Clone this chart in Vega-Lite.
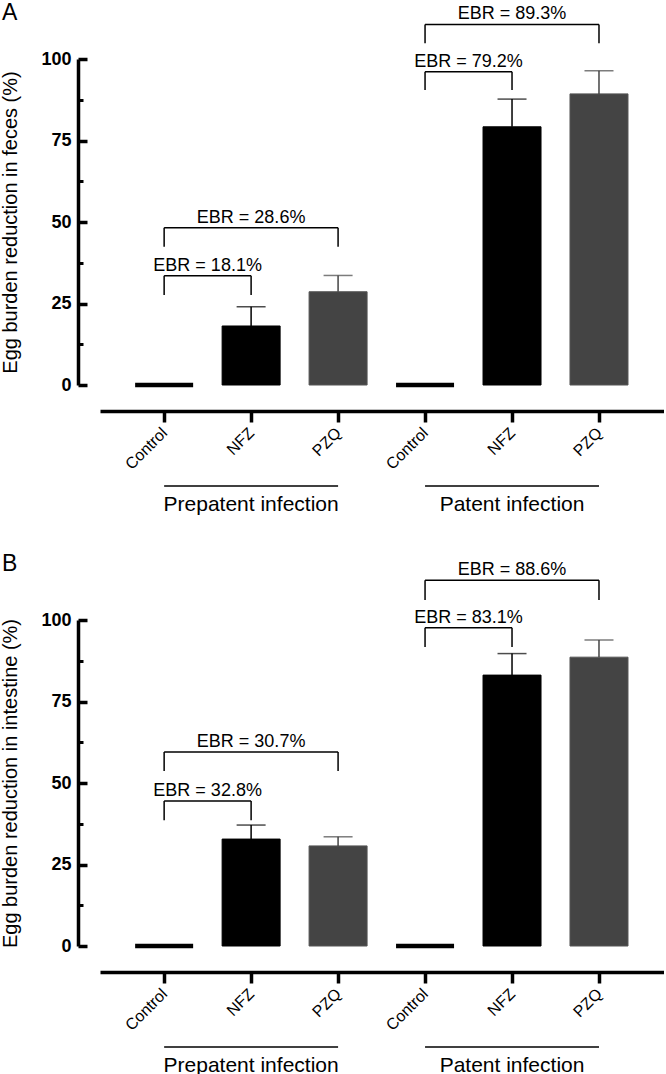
{
  "$schema": "https://vega.github.io/schema/vega-lite/v6.json",
  "padding": {"left": 0, "top": 2, "right": 0, "bottom": 0},
  "background": "white",
  "config": {
    "font": "Liberation Sans",
    "view": {"stroke": null},
    "axis": {"labelFont": "Liberation Sans", "titleFont": "Liberation Sans", "grid": false},
    "title": {"font": "Liberation Sans"}
  },
  "spacing": 37,
  "datasets": {
    "bars": [
      {"panel": "A", "pos": 1, "infection": "Prepatent", "treatment": "Control", "value": 0, "upper": 0},
      {"panel": "A", "pos": 2, "infection": "Prepatent", "treatment": "NFZ", "value": 18.1, "upper": 24.0},
      {"panel": "A", "pos": 3, "infection": "Prepatent", "treatment": "PZQ", "value": 28.6, "upper": 33.6},
      {"panel": "A", "pos": 4, "infection": "Patent", "treatment": "Control", "value": 0, "upper": 0},
      {"panel": "A", "pos": 5, "infection": "Patent", "treatment": "NFZ", "value": 79.2, "upper": 87.7},
      {"panel": "A", "pos": 6, "infection": "Patent", "treatment": "PZQ", "value": 89.3, "upper": 96.4},
      {"panel": "B", "pos": 1, "infection": "Prepatent", "treatment": "Control", "value": 0, "upper": 0},
      {"panel": "B", "pos": 2, "infection": "Prepatent", "treatment": "NFZ", "value": 32.8, "upper": 37.1},
      {"panel": "B", "pos": 3, "infection": "Prepatent", "treatment": "PZQ", "value": 30.7, "upper": 33.5},
      {"panel": "B", "pos": 4, "infection": "Patent", "treatment": "Control", "value": 0, "upper": 0},
      {"panel": "B", "pos": 5, "infection": "Patent", "treatment": "NFZ", "value": 83.1, "upper": 89.7},
      {"panel": "B", "pos": 6, "infection": "Patent", "treatment": "PZQ", "value": 88.6, "upper": 93.9}
    ],
    "brackets": [
      {"panel": "A", "from": 1, "to": 2, "mid": 1.5, "top": 33.5, "bottom": 27.6, "label": "EBR = 18.1%"},
      {"panel": "A", "from": 1, "to": 3, "mid": 2, "top": 48.2, "bottom": 42.4, "label": "EBR = 28.6%"},
      {"panel": "A", "from": 4, "to": 5, "mid": 4.5, "top": 96.1, "bottom": 90.5, "label": "EBR = 79.2%"},
      {"panel": "A", "from": 4, "to": 6, "mid": 5, "top": 110.6, "bottom": 104.8, "label": "EBR = 89.3%"},
      {"panel": "B", "from": 1, "to": 2, "mid": 1.5, "top": 44.5, "bottom": 38.6, "label": "EBR = 32.8%"},
      {"panel": "B", "from": 1, "to": 3, "mid": 2, "top": 59.5, "bottom": 53.7, "label": "EBR = 30.7%"},
      {"panel": "B", "from": 4, "to": 5, "mid": 4.5, "top": 97.6, "bottom": 91.7, "label": "EBR = 83.1%"},
      {"panel": "B", "from": 4, "to": 6, "mid": 5, "top": 112.2, "bottom": 106.1, "label": "EBR = 88.6%"}
    ],
    "groups": [
      {"from": 1, "to": 3, "mid": 2, "level": -31, "label": "Prepatent infection"},
      {"from": 4, "to": 6, "mid": 5, "level": -31, "label": "Patent infection"}
    ]
  },
  "vconcat": [
    {
      "title": {"text": "A", "anchor": "start", "frame": "group", "fontSize": 23, "fontWeight": "normal", "dx": -98, "offset": -20},
      "width": 564,
      "height": 326,
      "resolve": {"axis": {"y": "independent"}},
      "layer": [
        {
          "data": {"name": "bars"},
          "transform": [{"filter": "datum.panel === 'A'"}],
          "mark": {"type": "bar", "width": 58},
          "encoding": {
            "x": {"field": "pos", "type": "quantitative",
              "scale": {"domain": [0.32, 6.69], "nice": false, "zero": false},
              "axis": {"values": [1, 2, 3, 4, 5, 6], "labelExpr": "['Control','NFZ','PZQ','Control','NFZ','PZQ'][datum.value - 1]",
                "title": null, "offset": 26, "domainColor": "black", "domainWidth": 3.5, "tickColor": "black", "tickWidth": 3.5, "tickSize": 11,
                "labelAngle": -45, "labelAlign": "right", "labelBaseline": "middle", "labelFontSize": 16, "labelColor": "black", "labelPadding": 8}},
            "y": {"field": "value", "type": "quantitative",
              "scale": {"domain": [0, 100], "nice": false},
              "axis": {"orient": "left", "values": [0, 25, 50, 75, 100],
                "title": "Egg burden reduction in feces (%)", "titleFontSize": 20, "titleFontWeight": "normal", "titleColor": "black",
                "labelFontSize": 18, "labelFontWeight": "bold", "labelColor": "black",
                "domainColor": "black", "domainWidth": 3.5, "tickColor": "black", "tickWidth": 3.5, "tickSize": -9,
                "offset": 22, "labelPadding": 16, "titlePadding": 20}},
            "color": {"field": "treatment", "type": "nominal", "scale": {"domain": ["Control", "NFZ", "PZQ"], "range": ["#000000", "#000000", "#444444"]}, "legend": null},
            "stroke": {"field": "treatment", "type": "nominal", "scale": {"domain": ["Control", "NFZ", "PZQ"], "range": ["#000000", "#000000", "#555555"]}, "legend": null},
            "strokeWidth": {"condition": {"test": "datum.value === 0", "value": 4.5}, "value": 1}
          }
        },
        {
          "data": {"name": "bars"},
          "transform": [{"filter": "datum.panel === 'A' && datum.upper > 0"}],
          "mark": {"type": "rule", "strokeWidth": 1.5},
          "encoding": {
            "x": {"field": "pos", "type": "quantitative"},
            "y": {"field": "value", "type": "quantitative",
              "axis": {"orient": "left", "values": [12.5, 37.5, 62.5, 87.5], "labels": false, "domain": false, "title": null,
                "tickColor": "black", "tickWidth": 3, "tickSize": -5, "offset": 22}},
            "y2": {"field": "upper"},
            "color": {"field": "treatment", "type": "nominal", "scale": {"domain": ["Control", "NFZ", "PZQ"], "range": ["#000000", "#000000", "#555555"]}, "legend": null}
          }
        },
        {
          "data": {"name": "bars"},
          "transform": [{"filter": "datum.panel === 'A' && datum.upper > 0"}],
          "mark": {"type": "tick", "orient": "horizontal", "size": 29, "thickness": 1.5},
          "encoding": {
            "x": {"field": "pos", "type": "quantitative"},
            "y": {"field": "upper", "type": "quantitative", "axis": null},
            "color": {"field": "treatment", "type": "nominal", "scale": {"domain": ["Control", "NFZ", "PZQ"], "range": ["#000000", "#000000", "#555555"]}, "legend": null}
          }
        },
        {
          "data": {"name": "brackets"},
          "transform": [{"filter": "datum.panel === 'A'"}],
          "mark": {"type": "rule", "color": "black", "strokeWidth": 1.5},
          "encoding": {"x": {"field": "from", "type": "quantitative"}, "x2": {"field": "to"}, "y": {"field": "top", "type": "quantitative", "axis": null}}
        },
        {
          "data": {"name": "brackets"},
          "transform": [{"filter": "datum.panel === 'A'"}],
          "mark": {"type": "rule", "color": "black", "strokeWidth": 1.5},
          "encoding": {"x": {"field": "from", "type": "quantitative"}, "y": {"field": "top", "type": "quantitative", "axis": null}, "y2": {"field": "bottom"}}
        },
        {
          "data": {"name": "brackets"},
          "transform": [{"filter": "datum.panel === 'A'"}],
          "mark": {"type": "rule", "color": "black", "strokeWidth": 1.5},
          "encoding": {"x": {"field": "to", "type": "quantitative"}, "y": {"field": "top", "type": "quantitative", "axis": null}, "y2": {"field": "bottom"}}
        },
        {
          "data": {"name": "brackets"},
          "transform": [{"filter": "datum.panel === 'A'"}],
          "mark": {"type": "text", "fontSize": 18, "color": "black", "baseline": "alphabetic", "dy": -5},
          "encoding": {"x": {"field": "mid", "type": "quantitative"}, "y": {"field": "top", "type": "quantitative", "axis": null}, "text": {"field": "label"}}
        },
        {
          "data": {"name": "groups"},
          "mark": {"type": "rule", "color": "black", "strokeWidth": 1.5},
          "encoding": {"x": {"field": "from", "type": "quantitative"}, "x2": {"field": "to"}, "y": {"field": "level", "type": "quantitative", "axis": null}}
        },
        {
          "data": {"name": "groups"},
          "mark": {"type": "text", "fontSize": 21, "color": "black", "baseline": "alphabetic", "dy": 25},
          "encoding": {"x": {"field": "mid", "type": "quantitative"}, "y": {"field": "level", "type": "quantitative", "axis": null}, "text": {"field": "label"}}
        }
      ]
    },
    {
      "title": {"text": "B", "anchor": "start", "frame": "group", "fontSize": 23, "fontWeight": "normal", "dx": -98, "offset": -15},
      "width": 564,
      "height": 326,
      "resolve": {"axis": {"y": "independent"}},
      "layer": [
        {
          "data": {"name": "bars"},
          "transform": [{"filter": "datum.panel === 'B'"}],
          "mark": {"type": "bar", "width": 58},
          "encoding": {
            "x": {"field": "pos", "type": "quantitative",
              "scale": {"domain": [0.32, 6.69], "nice": false, "zero": false},
              "axis": {"values": [1, 2, 3, 4, 5, 6], "labelExpr": "['Control','NFZ','PZQ','Control','NFZ','PZQ'][datum.value - 1]",
                "title": null, "offset": 26, "domainColor": "black", "domainWidth": 3.5, "tickColor": "black", "tickWidth": 3.5, "tickSize": 11,
                "labelAngle": -45, "labelAlign": "right", "labelBaseline": "middle", "labelFontSize": 16, "labelColor": "black", "labelPadding": 8}},
            "y": {"field": "value", "type": "quantitative",
              "scale": {"domain": [0, 100], "nice": false},
              "axis": {"orient": "left", "values": [0, 25, 50, 75, 100],
                "title": "Egg burden reduction in intestine (%)", "titleFontSize": 20, "titleFontWeight": "normal", "titleColor": "black",
                "labelFontSize": 18, "labelFontWeight": "bold", "labelColor": "black",
                "domainColor": "black", "domainWidth": 3.5, "tickColor": "black", "tickWidth": 3.5, "tickSize": -9,
                "offset": 22, "labelPadding": 16, "titlePadding": 20}},
            "color": {"field": "treatment", "type": "nominal", "scale": {"domain": ["Control", "NFZ", "PZQ"], "range": ["#000000", "#000000", "#444444"]}, "legend": null},
            "stroke": {"field": "treatment", "type": "nominal", "scale": {"domain": ["Control", "NFZ", "PZQ"], "range": ["#000000", "#000000", "#555555"]}, "legend": null},
            "strokeWidth": {"condition": {"test": "datum.value === 0", "value": 4.5}, "value": 1}
          }
        },
        {
          "data": {"name": "bars"},
          "transform": [{"filter": "datum.panel === 'B' && datum.upper > 0"}],
          "mark": {"type": "rule", "strokeWidth": 1.5},
          "encoding": {
            "x": {"field": "pos", "type": "quantitative"},
            "y": {"field": "value", "type": "quantitative",
              "axis": {"orient": "left", "values": [12.5, 37.5, 62.5, 87.5], "labels": false, "domain": false, "title": null,
                "tickColor": "black", "tickWidth": 3, "tickSize": -5, "offset": 22}},
            "y2": {"field": "upper"},
            "color": {"field": "treatment", "type": "nominal", "scale": {"domain": ["Control", "NFZ", "PZQ"], "range": ["#000000", "#000000", "#555555"]}, "legend": null}
          }
        },
        {
          "data": {"name": "bars"},
          "transform": [{"filter": "datum.panel === 'B' && datum.upper > 0"}],
          "mark": {"type": "tick", "orient": "horizontal", "size": 29, "thickness": 1.5},
          "encoding": {
            "x": {"field": "pos", "type": "quantitative"},
            "y": {"field": "upper", "type": "quantitative", "axis": null},
            "color": {"field": "treatment", "type": "nominal", "scale": {"domain": ["Control", "NFZ", "PZQ"], "range": ["#000000", "#000000", "#555555"]}, "legend": null}
          }
        },
        {
          "data": {"name": "brackets"},
          "transform": [{"filter": "datum.panel === 'B'"}],
          "mark": {"type": "rule", "color": "black", "strokeWidth": 1.5},
          "encoding": {"x": {"field": "from", "type": "quantitative"}, "x2": {"field": "to"}, "y": {"field": "top", "type": "quantitative", "axis": null}}
        },
        {
          "data": {"name": "brackets"},
          "transform": [{"filter": "datum.panel === 'B'"}],
          "mark": {"type": "rule", "color": "black", "strokeWidth": 1.5},
          "encoding": {"x": {"field": "from", "type": "quantitative"}, "y": {"field": "top", "type": "quantitative", "axis": null}, "y2": {"field": "bottom"}}
        },
        {
          "data": {"name": "brackets"},
          "transform": [{"filter": "datum.panel === 'B'"}],
          "mark": {"type": "rule", "color": "black", "strokeWidth": 1.5},
          "encoding": {"x": {"field": "to", "type": "quantitative"}, "y": {"field": "top", "type": "quantitative", "axis": null}, "y2": {"field": "bottom"}}
        },
        {
          "data": {"name": "brackets"},
          "transform": [{"filter": "datum.panel === 'B'"}],
          "mark": {"type": "text", "fontSize": 18, "color": "black", "baseline": "alphabetic", "dy": -5},
          "encoding": {"x": {"field": "mid", "type": "quantitative"}, "y": {"field": "top", "type": "quantitative", "axis": null}, "text": {"field": "label"}}
        },
        {
          "data": {"name": "groups"},
          "mark": {"type": "rule", "color": "black", "strokeWidth": 1.5},
          "encoding": {"x": {"field": "from", "type": "quantitative"}, "x2": {"field": "to"}, "y": {"field": "level", "type": "quantitative", "axis": null}}
        },
        {
          "data": {"name": "groups"},
          "mark": {"type": "text", "fontSize": 21, "color": "black", "baseline": "alphabetic", "dy": 25},
          "encoding": {"x": {"field": "mid", "type": "quantitative"}, "y": {"field": "level", "type": "quantitative", "axis": null}, "text": {"field": "label"}}
        }
      ]
    }
  ]
}
